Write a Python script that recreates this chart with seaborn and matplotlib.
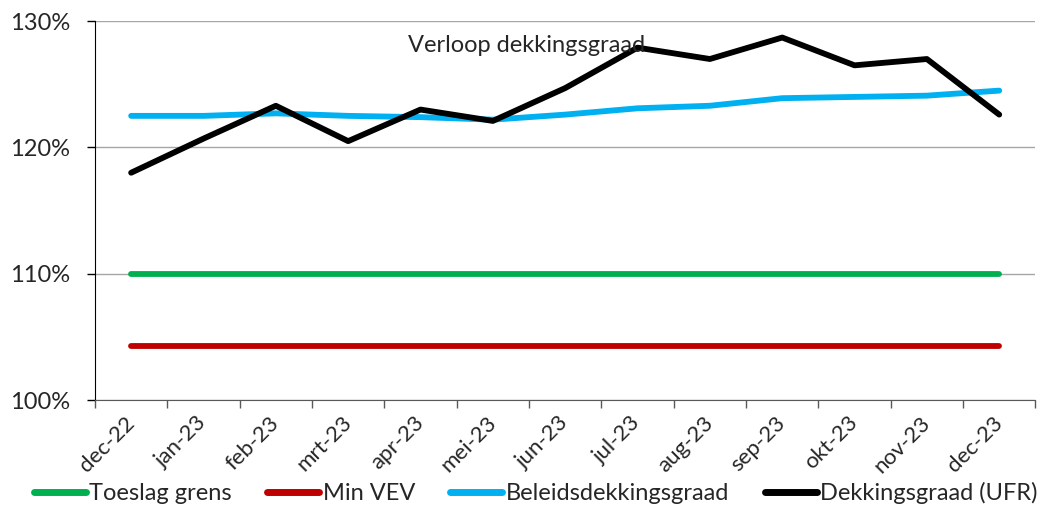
import pandas as pd
import numpy as np
import matplotlib.pyplot as plt
import seaborn as sns
from matplotlib.ticker import PercentFormatter, FixedLocator

# data
maanden = ['dec-22', 'jan-23', 'feb-23', 'mrt-23', 'apr-23', 'mei-23', 'jun-23',
           'jul-23', 'aug-23', 'sep-23', 'okt-23', 'nov-23', 'dec-23']
toeslag_grens = [1.10] * 13
min_vev = [1.043] * 13
beleidsdekkingsgraad = [1.225, 1.225, 1.227, 1.225, 1.224, 1.222, 1.226,
                        1.231, 1.233, 1.239, 1.240, 1.241, 1.245]
dekkingsgraad_ufr = [1.180, 1.207, 1.233, 1.205, 1.230, 1.221, 1.247,
                     1.279, 1.270, 1.287, 1.265, 1.270, 1.226]

series = ['Toeslag grens', 'Min VEV', 'Beleidsdekkingsgraad', 'Dekkingsgraad (UFR)']
kleuren = ['#00B050', '#C00000', '#00B0F0', '#000000']

df = pd.DataFrame({
    'pos': np.arange(len(maanden)),
    'Toeslag grens': toeslag_grens,
    'Min VEV': min_vev,
    'Beleidsdekkingsgraad': beleidsdekkingsgraad,
    'Dekkingsgraad (UFR)': dekkingsgraad_ufr,
})
lang = df.melt(id_vars='pos', var_name='reeks', value_name='waarde')

sns.set_style('white')
plt.rcParams['font.family'] = ['Lato', 'DejaVu Sans']
fs = 17

fig = plt.figure(figsize=(10.38, 5.15), dpi=100)
ax = fig.add_axes([0.0915, 0.223, 0.906, 0.736])

sns.lineplot(data=lang, x='pos', y='waarde', hue='reeks', hue_order=series,
             palette=kleuren, linewidth=4.2, ax=ax, legend=False,
             solid_capstyle='round')

ax.set_xlim(-0.5, len(maanden) - 0.5)
ax.set_ylim(1.0, 1.3)
ax.set_yticks([1.0, 1.1, 1.2, 1.3])
ax.yaxis.set_major_formatter(PercentFormatter(1.0, decimals=0))
ax.yaxis.grid(True, color='#a6a6a6', linewidth=1)
ax.set_axisbelow(True)

ax.set_xticks(np.arange(len(maanden)))
ax.set_xticklabels(maanden, rotation=45, ha='right', va='center',
                   rotation_mode='anchor')
ax.xaxis.set_minor_locator(FixedLocator(np.arange(-0.5, len(maanden), 1)))
ax.tick_params(axis='x', which='major', length=0, pad=14, labelsize=fs - 1)
ax.tick_params(axis='x', which='minor', length=6, width=1, color='#595959',
               bottom=True)
ax.tick_params(axis='y', length=6, width=1, color='#000000', left=True,
               labelsize=fs, pad=12)
ax.set_xlabel('')
ax.set_ylabel('')

for kant in ['top', 'right']:
    ax.spines[kant].set_visible(False)
ax.spines['left'].set_color('#000000')
ax.spines['bottom'].set_color('#595959')

ax.text(0.333, 0.935, 'Verloop dekkingsgraad', transform=ax.transAxes,
        fontsize=fs, ha='left', va='center')

handles = [plt.Line2D([], [], color=c, linewidth=5, solid_capstyle='round')
           for c in kleuren]
fig.legend(handles, series, loc='lower center', bbox_to_anchor=(0.516, -0.02),
           ncol=4, frameon=False, fontsize=fs, handlelength=2.2,
           handletextpad=0.15, columnspacing=1.5)

plt.savefig('out.png', dpi=100)
